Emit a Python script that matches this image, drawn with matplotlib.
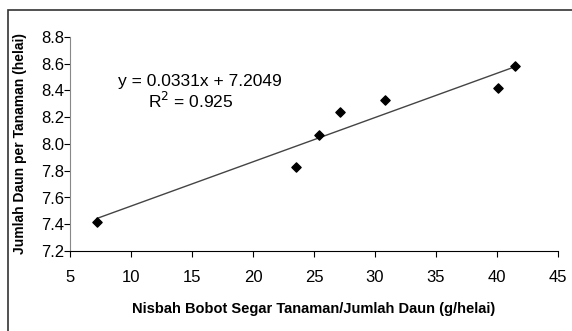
import matplotlib.pyplot as plt
import matplotlib.patches as mpatches
import numpy as np

# data
nisbah = [7.2, 23.5, 25.4, 27.1, 30.8, 40.1, 41.5]
jumlah_daun = [7.42, 7.83, 8.07, 8.24, 8.33, 8.42, 8.58]
slope = 0.0331
intercept = 7.2049
r2 = 0.925

plt.rcParams['font.family'] = ['Liberation Sans', 'DejaVu Sans']

fig = plt.figure(figsize=(5.72, 3.31), dpi=100)
W, H = 572, 331
ax = fig.add_axes([70 / W, 1 - 251 / H, (558 - 70) / W, (251 - 37) / H])

# outer frame around the chart
fig.patches.append(mpatches.Rectangle((8 / W, -0.05), 1.0, 1 - 10 / H + 0.05,
                                      transform=fig.transFigure, fill=False,
                                      edgecolor='#333333', linewidth=1.2))

ax.scatter(nisbah, jumlah_daun, marker='D', s=22, color='black', zorder=3)
xs = np.array([min(nisbah), max(nisbah)])
ax.plot(xs, slope * xs + intercept, color='#444444', lw=1)

ax.set_xlim(5, 45)
ax.set_ylim(7.2, 8.8)
ax.set_xticks(range(5, 50, 5))
ax.set_yticks(np.arange(7.2, 8.81, 0.2))
ax.set_yticklabels([f'{v:.1f}' for v in np.arange(7.2, 8.81, 0.2)])
ax.tick_params(axis='both', labelsize=12, color='black', length=4)
ax.tick_params(axis='x', pad=10)
ax.tick_params(axis='y', pad=0)

for s in ['top', 'right']:
    ax.spines[s].set_visible(False)
ax.spines['left'].set_color('#888888')

narrow = ['Liberation Sans Narrow', 'Liberation Sans', 'DejaVu Sans']
ax.set_xlabel('Nisbah Bobot Segar Tanaman/Jumlah Daun (g/helai)',
              family=narrow, fontweight='bold', fontsize=10.5, labelpad=12)
ax.set_ylabel('Jumlah Daun per Tanaman (helai)',
              family=narrow, fontweight='bold', fontsize=10, labelpad=10)

ax.text(8.9, 8.47, f'y = {slope}x + {intercept}', fontsize=12.5, va='center')
ax.text(11.4, 8.32, f'R$^2$ = {r2}', fontsize=12.5, va='center')

fig.savefig('out.png', dpi=100)
